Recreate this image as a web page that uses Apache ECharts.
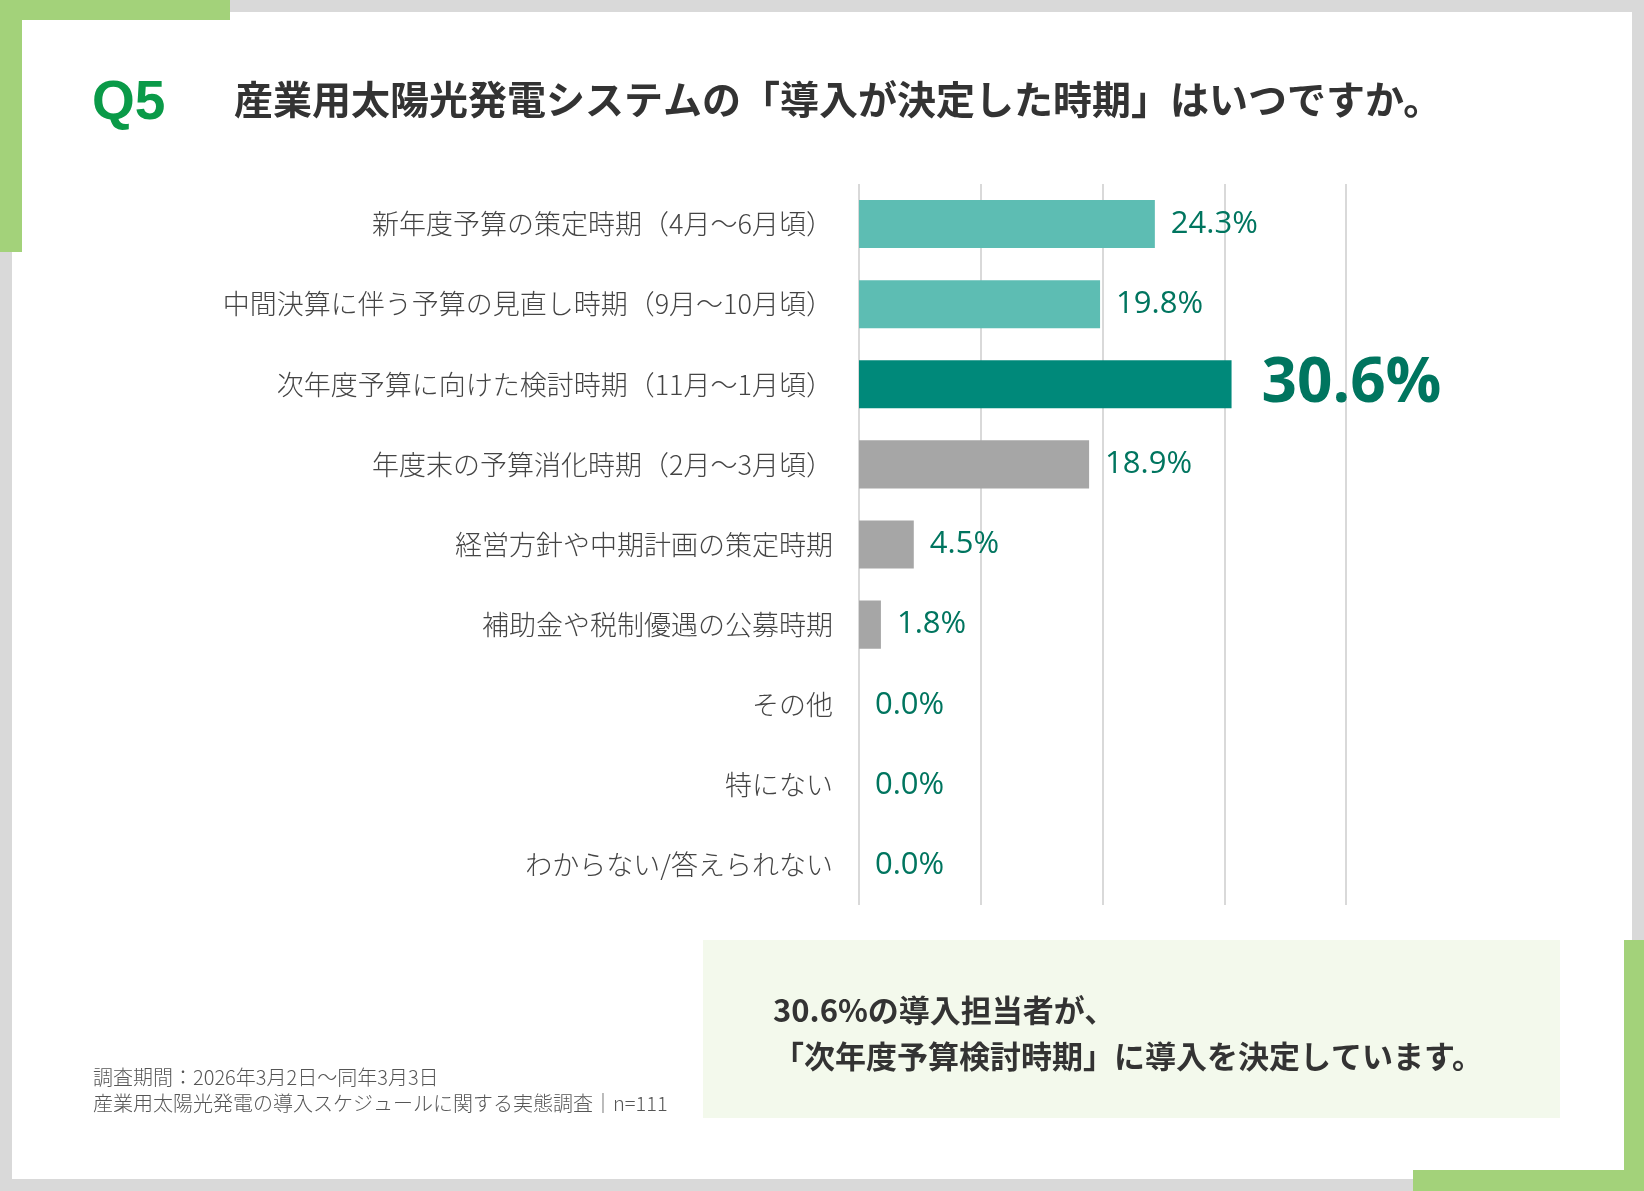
<!DOCTYPE html>
<html><head><meta charset="utf-8">
<script src="https://cdn.jsdelivr.net/npm/echarts@6/dist/echarts.min.js"></script>
<style>html,body{margin:0;padding:0;background:#fff}#c{width:1644px;height:1191px}</style>
</head><body><div id="c"></div>
<script>
const categories = ['新年度予算の策定時期（4月～6月頃）','中間決算に伴う予算の見直し時期（9月～10月頃）','次年度予算に向けた検討時期（11月～1月頃）','年度末の予算消化時期（2月～3月頃）','経営方針や中期計画の策定時期','補助金や税制優遇の公募時期','その他','特にない','わからない/答えられない'];
const values = [24.3,19.8,30.6,18.9,4.5,1.8,0.0,0.0,0.0];
const barColors = ['#5dbdb3','#5dbdb3','#00897a','#a6a6a6','#a6a6a6','#a6a6a6','#a6a6a6','#a6a6a6','#a6a6a6'];
const xTicks = [0,10,20,30,40];
const F = '"Noto Sans CJK JP","Noto Sans",sans-serif';
const chart = echarts.init(document.getElementById('c'));
chart.setOption({
  animation:false,
  grid:{left:859,top:184,width:487,height:721,containLabel:false},
  xAxis:{type:'value',min:xTicks[0],max:xTicks[xTicks.length-1],interval:10,
    axisLabel:{show:false},axisLine:{show:false},axisTick:{show:false},
    splitLine:{lineStyle:{color:'#d9d9d9',width:2}}},
  yAxis:{type:'category',inverse:true,data:categories,
    axisLine:{show:false},axisTick:{show:false},
    axisLabel:{margin:26,fontSize:27,fontWeight:300,color:'#444',fontFamily:F,padding:[0,0,6,0]}},
  series:[{type:'bar',barWidth:'60%',
    data:values.map((v,i)=>({value:v,itemStyle:{color:barColors[i]},
      label: i===2 ? {fontSize:62,fontWeight:'bold',distance:30} : {}})),
    label:{show:true,position:'right',distance:16,color:'#00755f',fontSize:31,fontFamily:'"Open Sans","Noto Sans",sans-serif',
      formatter:p=>p.value.toFixed(1)+'%'}}],
  graphic:[
    {type:'rect',shape:{x:0,y:0,width:1644,height:1191},style:{fill:'none',stroke:'#d9d9d9',lineWidth:24},z:-1},
    {type:'rect',shape:{x:0,y:0,width:22,height:252},style:{fill:'#a3d27a'}},
    {type:'rect',shape:{x:0,y:0,width:230,height:20},style:{fill:'#a3d27a'}},
    {type:'rect',shape:{x:1624,y:940,width:20,height:251},style:{fill:'#a3d27a'}},
    {type:'rect',shape:{x:1413,y:1170,width:231,height:21},style:{fill:'#a3d27a'}},
    {type:'text',left:92,top:76,style:{text:'Q5',font:'bold 55px "Liberation Sans",Arial,sans-serif',fill:'#0a9a48'}},
    {type:'text',left:234,top:80,style:{text:'産業用太陽光発電システムの「導入が決定した時期」はいつですか。',font:'bold 39px '+F,fill:'#333'}},
    {type:'rect',shape:{x:703,y:940,width:857,height:178},style:{fill:'#f3f9ec'}},
    {type:'text',left:773,top:987,style:{text:'30.6%の導入担当者が、\n「次年度予算検討時期」に導入を決定しています。',font:'bold 31px '+F,fill:'#333',lineHeight:46}},
    {type:'text',left:93,top:1064,style:{text:'調査期間：2026年3月2日～同年3月3日\n産業用太陽光発電の導入スケジュールに関する実態調査｜n=111',font:'300 20px '+F,fill:'#555',lineHeight:26}}
  ]
});
</script></body></html>
